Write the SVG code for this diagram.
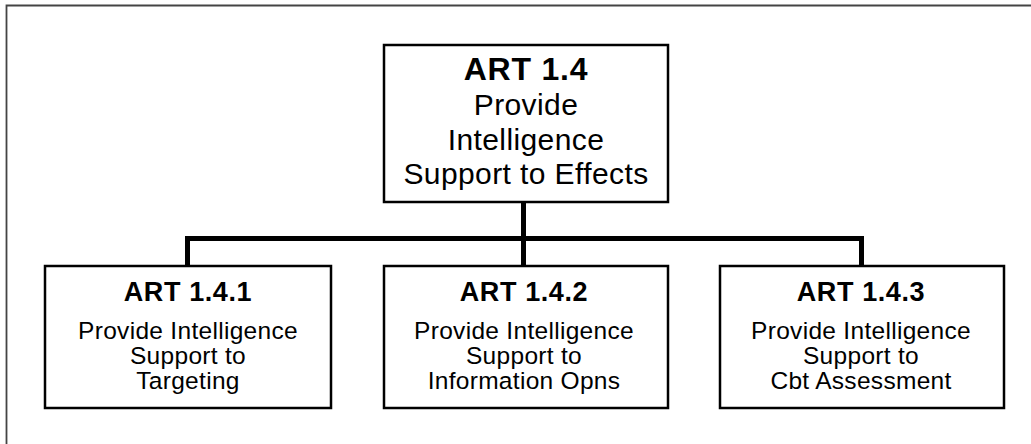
<svg xmlns="http://www.w3.org/2000/svg" width="1031" height="444" viewBox="0 0 1031 444">
<style>
.box{fill:#fff;stroke:#000;stroke-width:2.5}
.conn{fill:none;stroke:#000;stroke-width:5;stroke-linejoin:miter;stroke-linecap:butt}
text{font-family:"Liberation Sans",Arial,Helvetica,sans-serif;fill:#000;text-anchor:middle}
.t1{font-size:32px;font-weight:bold;letter-spacing:0.8px}
.r1{font-size:30px;letter-spacing:0.4px}
.t2{font-size:27px;font-weight:bold;letter-spacing:0.6px}
.r2{font-size:24.5px;letter-spacing:0.3px}
</style>
<rect width="1031" height="444" fill="#fff"/>
<path d="M6.5 444 V5.5 H1031" fill="none" stroke="#444" stroke-width="1.8"/>
<g id="connectors">
<path class="conn" d="M187.5 266 V238.5 H861.5 V266"/>
<path class="conn" d="M523.5 202 V266"/>
</g>
<g id="art14">
<rect class="box" x="384" y="45" width="284" height="157"/>
<text class="t1" x="526" y="80">ART 1.4</text>
<text class="r1" x="526" y="115">Provide</text>
<text class="r1" x="526" y="149.5">Intelligence</text>
<text class="r1" x="526" y="183.5">Support to Effects</text>
</g>
<g id="art141">
<rect class="box" x="45" y="266" width="286" height="142"/>
<text class="t2" x="188" y="301">ART 1.4.1</text>
<text class="r2" x="188" y="339">Provide Intelligence</text>
<text class="r2" x="188" y="364">Support to</text>
<text class="r2" x="188" y="388.5">Targeting</text>
</g>
<g id="art142">
<rect class="box" x="384" y="266" width="284" height="142"/>
<text class="t2" x="524" y="301">ART 1.4.2</text>
<text class="r2" x="524" y="339">Provide Intelligence</text>
<text class="r2" x="524" y="364">Support to</text>
<text class="r2" x="524" y="388.5">Information Opns</text>
</g>
<g id="art143">
<rect class="box" x="720" y="266" width="284" height="142"/>
<text class="t2" x="861" y="301">ART 1.4.3</text>
<text class="r2" x="861" y="339">Provide Intelligence</text>
<text class="r2" x="861" y="364">Support to</text>
<text class="r2" x="861" y="388.5">Cbt Assessment</text>
</g>
</svg>
